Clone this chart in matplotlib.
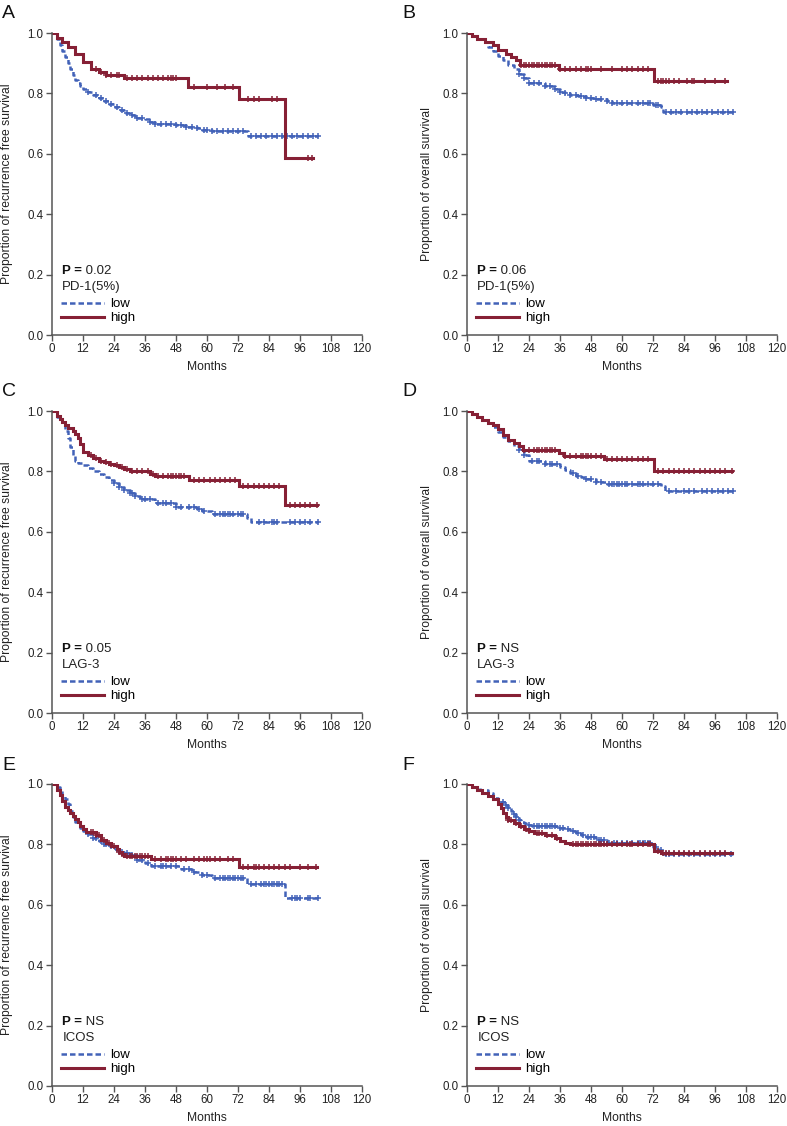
import numpy as np
import matplotlib
matplotlib.use("Agg")
import matplotlib.pyplot as plt

plt.rcParams['font.family'] = ['Liberation Sans', 'DejaVu Sans']

RED = '#862035'
BLUE = '#4262b8'

# ---- panel A : RFS, PD-1(5%) ----
a_high_t = [0, 2, 4, 6, 9, 12, 15, 18, 21, 28, 52.5, 72.5, 90.2]
a_high_s = [1.0, 0.985, 0.97, 0.955, 0.93, 0.905, 0.88, 0.87, 0.86, 0.85, 0.82, 0.78, 0.585]
a_high_end = 101
a_high_c = [17, 19, 21, 23, 25, 26, 29, 31, 33, 35, 37, 39, 41, 43, 45, 46, 47, 48, 55, 60, 64, 67, 70,
            76, 78, 80, 85, 87, 99, 100.5]
a_low_t = [0, 2, 3, 4, 5, 6, 7, 8, 9, 10, 11, 12, 14, 16, 18, 20, 22, 24, 26, 28, 30, 32, 36, 38, 40, 48,
           52, 56, 58, 62, 76]
a_low_s = [1.0, 0.98, 0.96, 0.94, 0.92, 0.90, 0.88, 0.86, 0.845, 0.835, 0.825, 0.815, 0.805, 0.795, 0.785,
           0.775, 0.765, 0.755, 0.745, 0.735, 0.73, 0.72, 0.715, 0.705, 0.70, 0.695, 0.69, 0.685, 0.68,
           0.675, 0.66]
a_low_end = 103
a_low_c = [14, 17, 19, 21, 23, 25, 27, 29, 31, 33, 35, 38, 40, 42, 44, 46, 48, 50, 52, 54, 56, 59, 60, 62,
           64, 66, 68, 70, 72, 74, 77, 79, 81, 83, 85, 87, 89, 91, 93, 95, 97, 99, 101, 103]

# ---- panel B : OS, PD-1(5%) ----
b_high_t = [0, 2, 4, 7, 10, 12, 15, 17, 19, 20.5, 35.5, 72.5]
b_high_s = [1.0, 0.99, 0.98, 0.97, 0.96, 0.945, 0.93, 0.92, 0.91, 0.895, 0.88, 0.84]
b_high_end = 100.5
b_high_c = [21, 22, 23, 24, 25, 26, 27, 28, 29, 30, 31, 32, 33, 34, 36, 38, 40, 42, 44, 46, 47, 48, 52,
            56, 60, 62, 64, 66, 68, 70, 74, 75, 76, 77, 78, 80, 82, 85, 87, 88, 92, 96, 100]
b_low_t = [0, 2, 4, 6, 8, 10, 12, 14, 16, 18, 20, 22, 24, 30, 34, 36, 38, 40, 43, 46, 50, 54, 56, 72, 75, 76]
b_low_s = [1.0, 0.99, 0.98, 0.97, 0.955, 0.94, 0.925, 0.91, 0.895, 0.88, 0.865, 0.85, 0.835, 0.825, 0.815,
           0.805, 0.80, 0.795, 0.79, 0.785, 0.78, 0.775, 0.768, 0.76, 0.755, 0.74]
b_low_end = 103
b_low_c = [20, 22, 24, 26, 28, 30, 32, 34, 36, 38, 40, 42, 44, 46, 48, 50, 52, 54, 56, 58, 60, 62, 64, 66,
           68, 70, 71, 73, 74, 77, 79, 81, 83, 85, 87, 89, 91, 93, 95, 97, 99, 101, 103]

# ---- panel C : RFS, LAG-3 ----
c_high_t = [0, 2, 3, 4, 5, 6, 8, 9, 10, 11, 12, 14, 16, 18, 20, 22, 24, 26, 28, 30, 38, 40, 53, 72.5, 90.2]
c_high_s = [1.0, 0.985, 0.975, 0.965, 0.955, 0.945, 0.935, 0.925, 0.91, 0.89, 0.865, 0.855, 0.845, 0.835,
            0.83, 0.825, 0.82, 0.815, 0.808, 0.80, 0.79, 0.785, 0.772, 0.752, 0.69]
c_high_end = 102.5
c_high_c = [15, 17, 19, 21, 23, 25, 27, 29, 31, 33, 35, 37, 39, 41, 43, 45, 46, 47, 48, 49, 50, 51, 55, 57,
            59, 61, 63, 65, 67, 69, 71, 74, 76, 78, 80, 82, 84, 86, 88, 92, 94, 96, 98, 100, 102.5]
c_low_t = [0, 2, 4, 5, 6, 7, 8, 9, 10, 12, 14, 16, 18, 20, 22, 24, 26, 28, 30, 32, 34, 40, 48, 56, 58, 62,
           75.5, 77]
c_low_s = [1.0, 0.98, 0.955, 0.935, 0.91, 0.88, 0.855, 0.835, 0.828, 0.82, 0.81, 0.80, 0.79, 0.78, 0.77,
           0.76, 0.75, 0.74, 0.73, 0.72, 0.708, 0.695, 0.683, 0.675, 0.668, 0.658, 0.645, 0.632]
c_low_end = 103
c_low_c = [24, 26, 28, 30, 31, 32, 35, 36, 38, 41, 43, 44, 46, 48, 50, 53, 55, 57, 59, 63, 65, 66, 67, 68,
           69, 70, 72, 73, 74, 80, 82, 85, 86, 87, 92, 94, 96, 98, 100, 103]

# ---- panel D : OS, LAG-3 ----
d_high_t = [0, 2, 4, 6, 8, 10, 12, 14, 16, 18, 20, 21.5, 35.5, 37.5, 53, 72.5]
d_high_s = [1.0, 0.99, 0.98, 0.97, 0.96, 0.955, 0.94, 0.92, 0.905, 0.895, 0.885, 0.87, 0.86, 0.85, 0.84, 0.80]
d_high_end = 102.5
d_high_c = [22, 24, 26, 27, 28, 29, 30, 31, 32, 33, 34, 38, 40, 42, 44, 45, 46, 47, 48, 50, 52, 54, 56, 58,
            60, 62, 64, 66, 68, 70, 74, 76, 78, 80, 82, 84, 86, 88, 90, 92, 94, 96, 98, 100, 102.5]
d_low_t = [0, 2, 4, 6, 8, 10, 12, 14, 16, 18, 20, 22, 24, 30, 36, 38, 40, 42, 44, 46, 50, 54, 75, 76.5]
d_low_s = [1.0, 0.99, 0.98, 0.97, 0.96, 0.947, 0.93, 0.915, 0.9, 0.885, 0.87, 0.855, 0.835, 0.825, 0.815,
           0.805, 0.795, 0.785, 0.78, 0.775, 0.765, 0.758, 0.752, 0.735]
d_low_end = 103
d_low_c = [20, 22, 25, 27, 28, 30, 32, 33, 35, 41, 43, 46, 48, 50, 52, 55, 56, 57, 58, 59, 60, 61, 62, 64,
           66, 67, 68, 70, 72, 74, 78, 81, 84, 86, 88, 91, 93, 95, 97, 99, 101, 103]

# ---- panel E : RFS, ICOS ----
e_high_t = [0, 2, 3, 4, 5, 6, 7, 8, 9, 10, 11, 12, 13, 17, 19, 21, 23, 25, 26, 27, 28, 38.5, 72.5]
e_high_s = [1.0, 0.98, 0.965, 0.945, 0.925, 0.915, 0.905, 0.895, 0.885, 0.875, 0.86, 0.85, 0.84, 0.83,
            0.815, 0.805, 0.795, 0.785, 0.775, 0.768, 0.762, 0.752, 0.725]
e_high_end = 102.5
e_high_c = [15, 16, 17, 18, 20, 22, 24, 26, 27, 29, 30, 31, 32, 33, 34, 35, 36, 37, 40, 42, 44, 45, 46, 47,
            48, 50, 52, 55, 57, 59, 60, 61, 63, 65, 68, 70, 74, 76, 78, 79, 80, 82, 84, 86, 88, 90, 92, 96,
            99, 102]
e_low_t = [0, 2, 3, 4, 5, 6, 7, 8, 9, 10, 11, 12, 14, 16, 18, 20, 22, 24, 26, 28, 30, 33, 36, 38.5, 50, 54,
           58, 62, 75.5, 90.2]
e_low_s = [1.0, 0.99, 0.98, 0.965, 0.95, 0.935, 0.91, 0.89, 0.875, 0.865, 0.855, 0.845, 0.835, 0.82, 0.81,
           0.802, 0.795, 0.785, 0.775, 0.77, 0.765, 0.748, 0.74, 0.728, 0.72, 0.71, 0.7, 0.69, 0.668, 0.624]
e_low_end = 103
e_low_c = [14, 16, 17, 19, 20, 21, 23, 25, 27, 29, 31, 33, 35, 37, 40, 42, 43, 44, 46, 48, 51, 53, 55, 58,
           60, 63, 65, 66, 67, 68, 69, 70, 71, 72, 73, 74, 77, 79, 81, 82, 83, 84, 85, 86, 87, 88, 89, 93,
           94, 95, 96, 99, 100, 103]

# ---- panel F : OS, ICOS ----
f_high_t = [0, 2, 4, 6, 8, 10, 12, 13, 14, 15, 16, 18, 20, 22, 24, 26, 30, 34, 36, 38, 40, 72.5, 75]
f_high_s = [1.0, 0.99, 0.98, 0.97, 0.96, 0.95, 0.935, 0.92, 0.905, 0.89, 0.88, 0.87, 0.86, 0.85, 0.845,
            0.838, 0.83, 0.82, 0.812, 0.805, 0.80, 0.778, 0.772]
f_high_end = 102.5
f_high_c = [16, 17, 19, 21, 23, 24, 27, 28, 29, 31, 33, 35, 41, 42, 43, 44, 45, 46, 47, 48, 49, 50, 51, 52,
            53, 54, 56, 58, 60, 62, 63, 64, 66, 68, 70, 71, 74, 76, 77, 78, 80, 82, 84, 86, 88, 90, 92, 94,
            96, 98, 100]
f_low_t = [0, 2, 5, 8, 10, 12, 15, 16, 17, 18, 19, 20, 21, 22, 23, 25, 35, 38, 40, 42, 44, 46, 50, 54, 72,
           74, 76]
f_low_s = [1.0, 0.99, 0.98, 0.97, 0.955, 0.94, 0.93, 0.92, 0.91, 0.9, 0.89, 0.88, 0.875, 0.87, 0.865, 0.86,
           0.855, 0.85, 0.845, 0.838, 0.83, 0.825, 0.815, 0.805, 0.79, 0.78, 0.768]
f_low_end = 103
f_low_c = [14, 15, 16, 18, 19, 20, 24, 26, 27, 28, 29, 30, 31, 32, 33, 34, 36, 37, 39, 41, 43, 45, 47, 48,
           49, 51, 52, 53, 55, 57, 58, 60, 62, 64, 66, 67, 68, 69, 70, 71, 73, 75, 77, 78, 80, 82, 84, 86,
           88, 90, 92, 94, 96, 98, 100, 102]

letters = ['A', 'B', 'C', 'D', 'E', 'F']
markers = ['PD-1(5%)', 'PD-1(5%)', 'LAG-3', 'LAG-3', 'ICOS', 'ICOS']
pvals = ['0.02', '0.06', '0.05', 'NS', 'NS', 'NS']
ylabels = ['Proportion of recurrence free survival', 'Proportion of overall survival'] * 3

panels = [
    (a_low_t, a_low_s, a_low_end, a_low_c, a_high_t, a_high_s, a_high_end, a_high_c),
    (b_low_t, b_low_s, b_low_end, b_low_c, b_high_t, b_high_s, b_high_end, b_high_c),
    (c_low_t, c_low_s, c_low_end, c_low_c, c_high_t, c_high_s, c_high_end, c_high_c),
    (d_low_t, d_low_s, d_low_end, d_low_c, d_high_t, d_high_s, d_high_end, d_high_c),
    (e_low_t, e_low_s, e_low_end, e_low_c, e_high_t, e_high_s, e_high_end, e_high_c),
    (f_low_t, f_low_s, f_low_end, f_low_c, f_high_t, f_high_s, f_high_end, f_high_c),
]

W, H = 787, 1126
fig = plt.figure(figsize=(W / 100, H / 100), dpi=100)

lefts = [52, 467]
tops = [33, 411, 784]
aw, ah = 310, 302


def km(ax, t, s, end, c, color, ls, lw, label):
    x = list(t) + [end]
    y = list(s) + [s[-1]]
    line, = ax.plot(x, y, drawstyle='steps-post', color=color, ls=ls, lw=lw, label=label,
                    solid_joinstyle='miter')
    idx = np.searchsorted(t, c, side='right') - 1
    cy = np.array(s)[idx]
    ax.plot(c, cy, ls='none', marker='+', ms=4.5, mew=1.1, color=color)
    return line


for i, data in enumerate(panels):
    col, row = i % 2, i // 2
    l, tp = lefts[col], tops[row]
    ax = fig.add_axes([l / W, 1 - (tp + ah) / H, aw / W, ah / H])
    lo_t, lo_s, lo_e, lo_c, hi_t, hi_s, hi_e, hi_c = data
    h_low = km(ax, lo_t, lo_s, lo_e, lo_c, BLUE, (0, (2.2, 1.2)), 1.8, 'low')
    h_high = km(ax, hi_t, hi_s, hi_e, hi_c, RED, '-', 2.2, 'high')

    ax.set_xlim(0, 120)
    ax.set_ylim(0, 1.0)
    ax.set_xticks(np.arange(0, 121, 12))
    ax.set_yticks(np.arange(0, 1.01, 0.2))
    ax.yaxis.set_major_formatter(matplotlib.ticker.FormatStrFormatter('%.1f'))
    for sp in ['top', 'right']:
        ax.spines[sp].set_visible(False)
    for sp in ['left', 'bottom']:
        ax.spines[sp].set_color('#555555')
        ax.spines[sp].set_linewidth(1.1)
    ax.tick_params(direction='out', length=4, width=1, color='#555555', labelsize=8.3, labelcolor='#222222',
                   pad=2)
    ax.set_xlabel('Months', fontsize=8.7, color='#222222')
    ax.xaxis.set_label_coords(0.5, -0.085)
    ax.set_ylabel(ylabels[i], fontsize=8.7, color='#222222')
    ax.yaxis.set_label_coords(-0.125 if col == 0 else -0.11, 0.5)

    tP = ax.text(4, 0.213, 'P =', fontsize=9.5, va='center', color='#111111', weight='bold')
    ax.annotate(' ' + pvals[i], xy=(1, 0.5), xycoords=tP, va='center', ha='left', fontsize=9.5,
                color='#222222')
    ax.text(4, 0.16, markers[i], fontsize=9.5, va='center', color='#222222')
    ax.legend(handles=[h_low, h_high], loc='lower left', bbox_to_anchor=(0.028, 0.035), frameon=False,
              fontsize=9.5, handlelength=3.3, handletextpad=0.45, labelspacing=0.15, borderpad=0,
              borderaxespad=0)

    fig.text((2 if col == 0 else 402) / W, 1 - (tp - 19) / H, letters[i], fontsize=14, va='center',
             ha='left', color='#111111')

fig.savefig('out.png', dpi=100)
